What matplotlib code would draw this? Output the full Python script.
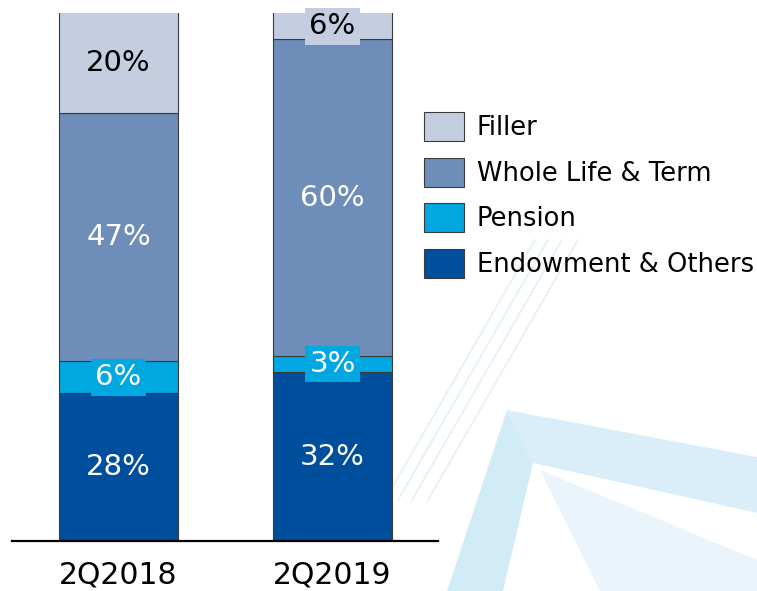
import numpy as np
import matplotlib
matplotlib.use('Agg')
import matplotlib.pyplot as plt
from matplotlib.patches import Polygon, Patch

plt.rcParams['font.family'] = ['DejaVu Sans']

# data
categories = ["2Q2018", "2Q2019"]
series = ["Endowment & Others", "Pension", "Whole Life & Term", "Filler"]
values = {
    "Endowment & Others": [28, 32],
    "Pension": [6, 3],
    "Whole Life & Term": [47, 60],
    "Filler": [20, 6],
}
colors = {
    "Endowment & Others": "#004F9C",
    "Pension": "#00A7E1",
    "Whole Life & Term": "#6E8DB9",
    "Filler": "#C4CEE0",
}
text_colors = {
    "Endowment & Others": "white",
    "Pension": "white",
    "Whole Life & Term": "white",
    "Filler": "black",
}

W, H = 757, 591
fig = plt.figure(figsize=(W / 100, H / 100), dpi=100)

# faint slide watermark in the background
bg = fig.add_axes([0, 0, 1, 1], zorder=-5)
bg.set_xlim(0, W)
bg.set_ylim(H, 0)
bg.axis('off')
bg.add_patch(Polygon([(507, 410), (757, 457), (757, 513), (533, 463)],
                     closed=True, facecolor="#D3ECF8", edgecolor="none", alpha=0.85))
bg.add_patch(Polygon([(507, 410), (533, 463), (503, 591), (447, 591)],
                     closed=True, facecolor="#C9E8F6", edgecolor="none", alpha=0.85))
bg.add_patch(Polygon([(540, 470), (757, 560), (757, 591), (600, 591)],
                     closed=True, facecolor="#E9F5FB", edgecolor="none"))
for x0 in [385, 398, 412, 428]:
    bg.plot([x0, x0 + 150], [500, 240], color="#E3F1F6", lw=1.2)

ax = fig.add_axes([12 / W, 50 / H, 426 / W, 528 / H])
ax.patch.set_alpha(0)

x = np.arange(len(categories))
width = 0.556
bottom = np.zeros(len(categories))
ymax = 100
for name in series:
    vals = np.array(values[name], dtype=float)
    ax.bar(x, vals, width, bottom=bottom, color=colors[name],
           edgecolor="#3A3A3A", linewidth=0.8, label=name)
    for i, v in enumerate(vals):
        lo, hi = bottom[i], min(bottom[i] + v, ymax)
        ax.text(x[i], (lo + hi) / 2, f"{int(v)}%", ha='center', va='center',
                fontsize=21, color=text_colors[name], clip_on=False,
                bbox=dict(boxstyle="square,pad=0.15", facecolor=colors[name],
                          edgecolor="none"))
    bottom += vals

ax.set_xlim(-0.498, 1.493)
ax.set_ylim(0, ymax)
ax.set_xticks(x)
ax.set_xticklabels(categories, fontsize=21.5)
ax.tick_params(axis='x', length=0, pad=14)
ax.set_yticks([])
for s in ["top", "left", "right"]:
    ax.spines[s].set_visible(False)
ax.spines["bottom"].set_linewidth(1.6)
ax.spines["bottom"].set_color("black")

handles = [Patch(facecolor=colors[n], edgecolor="#3A3A3A", linewidth=0.8)
           for n in series[::-1]]
fig.legend(handles, series[::-1], loc='upper left',
           bbox_to_anchor=(424 / W, 1 - 112 / H), frameon=False,
           fontsize=18.5, handlelength=1.55, handleheight=1.35,
           handletextpad=0.5, labelspacing=0.65, borderpad=0, borderaxespad=0)

fig.savefig("out.png", dpi=100)
